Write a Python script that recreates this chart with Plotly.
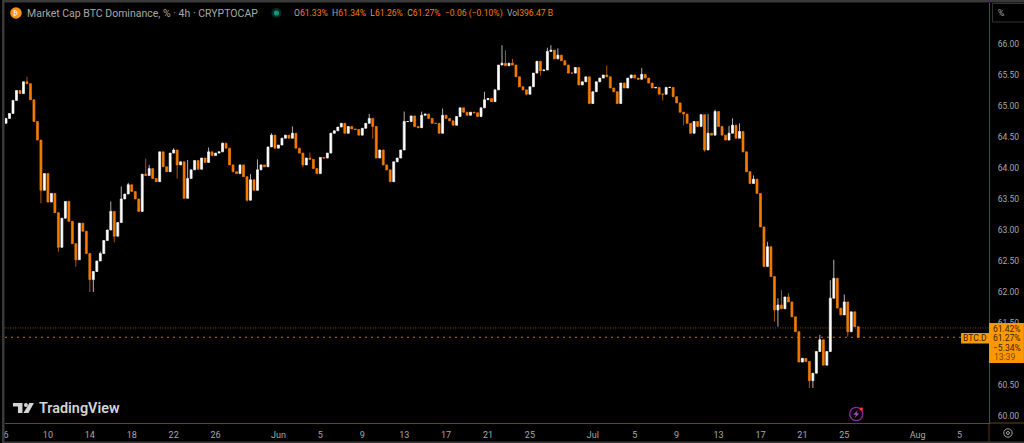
import pandas as pd
import plotly.graph_objects as go

# ---- data (BTC.D %, one bar every 8 hours from 6 May) ----
first_bar = "2025-05-06"
first_open = 64.72
closes = [
 64.80,64.88,65.09,65.25,65.20,65.39,65.36,65.10,64.75,64.45,63.64,63.91,63.45,63.59,63.28,62.72,
 63.19,63.46,63.14,62.78,62.52,63.11,62.98,62.62,62.20,62.33,62.50,62.62,62.83,63.00,63.30,62.90,
 63.12,63.50,63.58,63.73,63.62,63.50,63.30,63.90,63.88,63.99,63.83,63.78,64.26,64.02,63.94,64.24,
 64.29,64.05,64.10,63.51,63.83,63.97,64.12,63.98,64.16,64.09,64.26,64.20,64.24,64.26,64.40,64.32,
 64.05,63.94,63.91,64.05,63.86,63.48,63.81,63.64,63.97,64.05,64.02,64.34,64.53,64.32,64.37,64.48,
 64.53,64.48,64.56,64.32,64.24,64.05,64.16,64.14,63.99,63.91,64.17,64.16,64.24,64.56,64.60,64.66,
 64.72,64.56,64.67,64.63,64.62,64.53,64.64,64.72,64.80,64.67,64.16,64.29,64.05,63.97,63.78,64.10,
 64.16,64.29,64.75,64.75,64.84,64.67,64.65,64.85,64.87,64.80,64.72,64.72,64.56,64.85,64.80,64.76,
 64.69,64.83,64.97,64.90,64.85,64.90,64.89,64.83,64.97,65.10,65.12,65.07,65.26,65.66,65.69,65.65,
 65.69,65.66,65.47,65.31,65.26,65.19,65.31,65.53,65.72,65.57,65.58,65.88,65.90,65.76,65.82,65.73,
 65.66,65.53,65.53,65.62,65.34,65.39,65.47,65.04,65.23,65.39,65.45,65.50,65.47,65.29,65.23,65.04,
 65.37,65.29,65.45,65.50,65.45,65.43,65.51,65.45,65.37,65.29,65.30,65.19,65.19,65.30,65.30,65.15,
 65.05,64.90,64.87,64.72,64.56,64.75,64.67,64.86,64.29,64.56,64.53,64.91,64.67,64.53,64.45,64.56,
 64.69,64.48,64.59,64.26,63.94,63.75,63.82,63.59,63.05,62.41,62.73,62.25,61.71,61.79,61.73,61.92,
 61.84,61.60,61.36,60.87,60.93,60.88,60.57,60.69,61.04,61.23,60.82,61.04,61.90,62.22,61.74,61.63,
 61.84,61.36,61.68,61.44,61.27,
]
upper_wicks = {6:65.47,27:62.65,30:63.46,33:63.70,35:63.76,40:64.15,41:64.05,48:64.32,52:64.13,
 58:64.33,62:64.41,70:63.90,72:64.14,76:64.56,82:64.67,87:64.25,104:64.87,114:64.91,119:64.91,
 125:64.96,137:65.23,142:65.98,143:65.90,145:65.76,155:65.94,156:65.98,158:65.93,172:65.65,
 182:65.61,199:64.87,201:64.87,203:64.94,207:64.68,208:64.80,210:64.72,214:63.88,218:62.81,
 221:61.90,222:62.03,224:61.98,233:61.31,236:62.19,237:62.52,240:61.96}
lower_wicks = {10:63.43,15:62.65,20:62.41,24:62.00,25:62.00,31:62.80,49:63.83,69:63.46,85:64.01,
 105:64.47,149:65.17,153:65.49,188:65.09,194:64.69,200:64.26,220:61.52,221:61.44,230:60.45,
 231:60.45,241:61.28}
tick_dates = ["2025-05-06","2025-05-10","2025-05-14","2025-05-18","2025-05-22","2025-05-26","2025-06-01",
 "2025-06-05","2025-06-09","2025-06-13","2025-06-17","2025-06-21","2025-06-25","2025-07-01","2025-07-05",
 "2025-07-09","2025-07-13","2025-07-17","2025-07-21","2025-07-25","2025-08-01","2025-08-05"]
tick_labels = ["6","10","14","18","22","26","Jun","5","9","13","17","21","25","Jul","5","9","13","17","21","25","Aug","5"]
price_ticks = [60,60.5,61.5,62,62.5,63,63.5,64,64.5,65,65.5,66]
prev_close_level = 61.42
last_level = 61.27

# ---- styling ----
ORANGE = "#f57c00"
WHITE = "#ffffff"
LABEL = "#ff9800"
AXIS = "#6b4510"
TXT = "#a8a8a8"
W, H = 1024, 443
L, R, T, B = 3, 35, 3, 20
font = "Roboto"

opens = [first_open] + closes[:-1]
highs = [max(o, c, upper_wicks.get(i, 0)) for i, (o, c) in enumerate(zip(opens, closes))]
lows = [min(o, c, lower_wicks.get(i, 99)) for i, (o, c) in enumerate(zip(opens, closes))]
dates = pd.date_range(first_bar, periods=len(closes), freq="8h")

def px(x): return (x - L) / (W - L - R)
def py(y): return 1 - (y - T) / (H - T - B)

shapes, annos = [], []
def rect(x0, y0, x1, y1, fill, line=None, lw=0):
    shapes.append(dict(type="rect", xref="paper", yref="paper", x0=px(x0), x1=px(x1), y0=py(y1), y1=py(y0),
                       fillcolor=fill, line=dict(color=line or fill, width=lw), layer="above"))
def circ(cx, cy, r, fill, line=None, lw=0):
    shapes.append(dict(type="circle", xref="paper", yref="paper", x0=px(cx-r), x1=px(cx+r), y0=py(cy+r), y1=py(cy-r),
                       fillcolor=fill, line=dict(color=line or fill, width=lw), layer="above"))
def poly(points, fill):
    d = "M" + " L".join(f"{px(a):.5f},{py(b):.5f}" for a, b in points) + " Z"
    shapes.append(dict(type="path", xref="paper", yref="paper", path=d, fillcolor=fill, line=dict(width=0), layer="above"))
def text(x, y, s, color=TXT, size=9, anchor="left", weight=None):
    annos.append(dict(xref="paper", yref="paper", x=px(x), y=py(y), text=s, showarrow=False, xanchor=anchor,
                      yanchor="middle", xshift=0, yshift=0, borderpad=0,
                      font=dict(family=font, size=size, color=color, weight=weight)))

# window frame
GREY = "#3a3a3a"
rect(0, 0, 2.5, 443, GREY)
rect(0, 0, 1024, 2.5, GREY)
rect(0, 441.5, 1024, 443, GREY)
# axis line continuations
rect(989, 422.6, 1024, 423.4, AXIS)
rect(988.6, 423, 989.4, 441.5, AXIS)

# level lines
for lvl, dash, col in [(prev_close_level, "1px,1.5px", "#7a4e14"), (last_level, "2px,4px", "#c07412")]:
    shapes.append(dict(type="line", xref="paper", yref="y", x0=0, x1=1, y0=lvl, y1=lvl,
                       line=dict(color=col, width=1, dash=dash), layer="below"))

# price labels
rect(989, 323, 1024, 363, LABEL)
rect(961, 333, 989, 343.5, LABEL)
text(1007, 329, "61.42%", "#3a2500", 8.5, "center")
text(1007, 338, "61.27%", "#3a2500", 8.5, "center")
text(1007, 347.5, "\u22125.34%", "#3a2500", 8.5, "center")
text(1005, 357, "13:39", "#7a4c00", 8.5, "center")
text(975, 338.3, "BTC.D", "#3a2500", 8.5, "center")

# header
circ(14, 13, 5.8, "#f7931a")
text(14, 13, "\u20bf", "#ffffff", 7, "center")
text(24, 13, "Market Cap BTC Dominance, % \u00b7 4h \u00b7 CRYPTOCAP", "#a8a8a8", 10.5)
circ(275, 13, 5, "#0b2a24")
circ(275, 13, 2.6, "#089981")
V = ORANGE
text(292, 13, f'O<span style="color:{V}">61.33%</span>  H<span style="color:{V}">61.34%</span>  '
              f'L<span style="color:{V}">61.26%</span>  C<span style="color:{V}">61.27%</span>  '
              f'<span style="color:{V}">\u22120.06 (\u22120.10%)</span>  Vol<span style="color:{V}">396.47 B</span>',
     "#a8a8a8", 8.6)

# scale-mode box
rect(992.5, 3.5, 1030, 22, "#000000", "#333333", 1)
text(997, 13, "%", "#a8a8a8", 8.5)

# watermark
LOGO = "#d4d4d4"
poly([(11,403),(20.5,403),(20.5,413),(16,413),(16,406.5),(11,406.5)], LOGO)
circ(24, 405, 2, LOGO)
poly([(27.5,403),(32,403),(26.5,413),(21.5,413)], LOGO)
text(36, 408, "TradingView", LOGO, 14.4, weight=600)

# bolt badge
circ(856, 414, 6.6, "rgba(0,0,0,0)", "#8e24aa", 1.3)
poly([(857.5,410),(853,414.8),(855.6,414.8),(854.5,418),(859,413.2),(856.4,413.2)], "#ab47bc")
circ(861, 409, 1.7, "#f23645")

# settings gear
circ(1008, 433, 4.2, "rgba(0,0,0,0)", "#a8a8a8", 1)
circ(1008, 433, 1.5, "rgba(0,0,0,0)", "#a8a8a8", 1)

fig = go.Figure(go.Candlestick(
    x=dates, open=opens, high=highs, low=lows, close=closes,
    increasing=dict(line=dict(color=WHITE, width=0.7), fillcolor=WHITE),
    decreasing=dict(line=dict(color=ORANGE, width=0.7), fillcolor=ORANGE),
    whiskerwidth=0, showlegend=False, hoverinfo="skip",
))
fig.update_layout(
    width=W, height=H, margin=dict(l=L, r=R, t=T, b=B), autosize=False,
    paper_bgcolor="#000000", plot_bgcolor="#000000", boxgap=0.2,
    font=dict(family=font, size=9, color=TXT), shapes=shapes, annotations=annos,
    showlegend=False,
    xaxis=dict(type="date", range=["2025-05-05 21:43", "2025-08-07 19:26"], rangeslider=dict(visible=False),
               tickmode="array", tickvals=tick_dates, ticktext=tick_labels, showgrid=False, zeroline=False,
               showline=True, linecolor=AXIS, linewidth=1, ticks="outside", ticklen=3, tickcolor="rgba(0,0,0,0)",
               tickfont=dict(family=font, size=9, color=TXT)),
    yaxis=dict(side="right", range=[59.887, 66.661], tickmode="array", tickvals=price_ticks,
               tickformat=".2f", ticksuffix="%", showgrid=False, zeroline=False,
               showline=True, linecolor=AXIS, linewidth=1, ticks="outside", ticklen=6, tickcolor="rgba(0,0,0,0)",
               tickfont=dict(family=font, size=8.5, color=TXT)),
)
fig.write_html("out.html", config=dict(displayModeBar=False),
               post_script="document.body.style.margin='0';document.body.style.background='#000';")
